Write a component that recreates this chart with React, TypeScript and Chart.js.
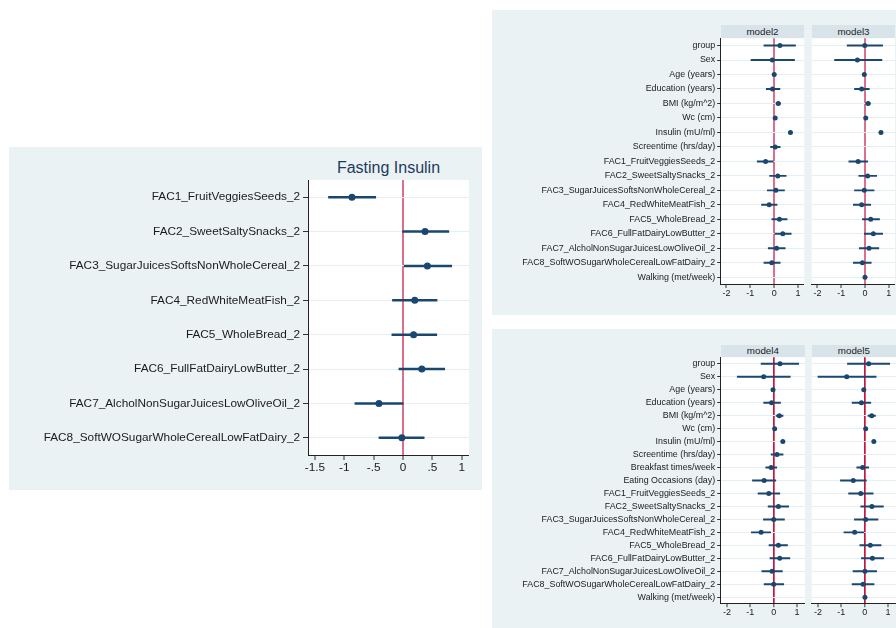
import React, { useEffect, useRef } from "react";
import { Chart, registerables } from "chart.js";

Chart.register(...registerables);

const FONT = '"Liberation Sans", Arial, Helvetica, sans-serif';
const NAVY = "#1a476f";
const PANEL_BG = "#eaf2f3";
const STRIP_BG = "#d9e4ea";
const GRID = "#e6eef1";
const PINK = "#db6f8c";
const RED = "#c8143c";
const INK = "#1b1b1b";

// ---- Fasting insulin (single model) ----
const fastingLabels = [
  "FAC1_FruitVeggiesSeeds_2",
  "FAC2_SweetSaltySnacks_2",
  "FAC3_SugarJuicesSoftsNonWholeCereal_2",
  "FAC4_RedWhiteMeatFish_2",
  "FAC5_WholeBread_2",
  "FAC6_FullFatDairyLowButter_2",
  "FAC7_AlcholNonSugarJuicesLowOliveOil_2",
  "FAC8_SoftWOSugarWholeCerealLowFatDairy_2",
];
const fastingEst = [-0.87, 0.375, 0.415, 0.2, 0.18, 0.32, -0.41, -0.02];
const fastingLow = [-1.27, -0.01, 0.02, -0.18, -0.19, -0.07, -0.82, -0.41];
const fastingHigh = [-0.465, 0.78, 0.83, 0.58, 0.575, 0.71, 0.005, 0.36];
const fastingTicks = [-1.5, -1, -0.5, 0, 0.5, 1];

const factorLabels = fastingLabels;

// ---- Models 2 and 3 ----
const topLabels = [
  "group",
  "Sex",
  "Age (years)",
  "Education (years)",
  "BMI (kg/m^2)",
  "Wc (cm)",
  "Insulin (mU/ml)",
  "Screentime (hrs/day)",
  ...factorLabels,
  "Walking (met/week)",
];
const model2Est = [0.24, -0.08, 0.0, -0.07, 0.17, 0.04, 0.68, 0.04, -0.36, 0.15, 0.07, -0.21, 0.22, 0.36, 0.1, -0.1, null];
const model2Low = [-0.43, -0.97, -0.02, -0.33, 0.08, 0.02, 0.66, -0.15, -0.71, -0.19, -0.29, -0.53, -0.1, 0.03, -0.25, -0.43, null];
const model2High = [0.89, 0.85, 0.02, 0.24, 0.26, 0.06, 0.7, 0.25, 0.0, 0.5, 0.43, 0.12, 0.54, 0.71, 0.46, 0.25, null];

const model3Est = [-0.01, -0.32, -0.03, -0.14, 0.13, 0.03, 0.67, null, -0.29, 0.11, -0.03, -0.14, 0.24, 0.35, 0.17, -0.11, 0.0];
const model3Low = [-0.75, -1.28, -0.05, -0.44, 0.03, 0.01, 0.65, null, -0.68, -0.26, -0.44, -0.49, -0.11, -0.03, -0.24, -0.49, -0.02];
const model3High = [0.74, 0.71, -0.01, 0.18, 0.22, 0.05, 0.69, null, 0.11, 0.49, 0.38, 0.24, 0.61, 0.74, 0.58, 0.26, 0.02];

// ---- Models 4 and 5 ----
const bottomLabels = [
  "group",
  "Sex",
  "Age (years)",
  "Education (years)",
  "BMI (kg/m^2)",
  "Wc (cm)",
  "Insulin (mU/ml)",
  "Screentime (hrs/day)",
  "Breakfast times/week",
  "Eating Occasions (day)",
  ...factorLabels,
  "Walking (met/week)",
];
const model4Est = [0.27, -0.43, -0.03, -0.09, 0.24, 0.04, 0.39, 0.14, -0.11, -0.41, -0.21, 0.2, 0.0, -0.54, 0.2, 0.26, -0.07, 0.0, null];
const model4Low = [-0.54, -1.56, -0.05, -0.43, 0.1, 0.02, 0.37, -0.11, -0.34, -0.91, -0.67, -0.24, -0.44, -0.96, -0.2, -0.16, -0.51, -0.41, null];
const model4High = [1.07, 0.71, -0.01, 0.29, 0.4, 0.06, 0.41, 0.4, 0.13, 0.09, 0.26, 0.64, 0.46, -0.13, 0.59, 0.69, 0.37, 0.43, null];

const model5Est = [0.17, -0.77, -0.04, -0.14, 0.3, 0.04, 0.39, null, -0.09, -0.49, -0.17, 0.31, 0.04, -0.43, 0.24, 0.33, 0.01, -0.07, 0.01];
const model5Low = [-0.74, -2.0, -0.06, -0.54, 0.14, 0.02, 0.37, null, -0.34, -1.04, -0.69, -0.17, -0.44, -0.89, -0.21, -0.14, -0.5, -0.54, -0.01];
const model5High = [1.07, 0.49, -0.02, 0.26, 0.46, 0.06, 0.41, null, 0.17, 0.07, 0.36, 0.8, 0.57, 0.0, 0.7, 0.81, 0.51, 0.4, 0.03];

const modelTicks = [-2, -1, 0, 1];

// Stata-style tick text: ".5", "-.5"
function fmtTick(v: number): string {
  return String(v).replace(/^(-?)0\./, "$1.");
}

const plotBackground = {
  id: "plotBackground",
  beforeDraw(chart: any) {
    const { ctx, chartArea: a } = chart;
    ctx.save();
    ctx.fillStyle = "#ffffff";
    ctx.fillRect(a.left, a.top, a.right - a.left, a.bottom - a.top);
    ctx.restore();
  },
};

type ForestProps = {
  left: number;
  top: number;
  width: number;
  height: number;
  labels: string[];
  est: (number | null)[];
  low: (number | null)[];
  high: (number | null)[];
  xMin: number;
  xMax: number;
  ticks: number[];
  yWidth: number;
  xHeight: number;
  padTop: number;
  padRight: number;
  showY: boolean;
  yFont: number;
  xFont: number;
  yTickLen: number;
  yTickPad: number;
  xTickLen: number;
  xTickPad: number;
  dot: number;
  ci: number;
  refColor: string;
  refWidth: number;
};

function Forest(p: ForestProps) {
  const ref = useRef<HTMLCanvasElement>(null);
  useEffect(() => {
    const bars = p.low.map((l, i) => (l == null || p.high[i] == null ? null : [l, p.high[i]]));
    const chart = new Chart(ref.current as HTMLCanvasElement, {
      type: "bar",
      data: {
        labels: p.labels,
        datasets: [
          {
            type: "line",
            indexAxis: "y",
            data: p.est,
            showLine: false,
            pointRadius: p.dot,
            pointHoverRadius: p.dot,
            pointBackgroundColor: NAVY,
            pointBorderWidth: 0,
            order: 0,
          } as any,
          {
            type: "bar",
            indexAxis: "y",
            data: bars,
            backgroundColor: NAVY,
            borderWidth: 0,
            barThickness: p.ci,
            order: 1,
          } as any,
        ],
      },
      options: {
        responsive: false,
        animation: false,
        indexAxis: "y",
        layout: {
          autoPadding: false,
          padding: { left: 0, top: p.padTop, right: p.padRight, bottom: 0 },
        },
        plugins: {
          legend: { display: false },
          tooltip: { enabled: false },
          title: { display: false },
        },
        scales: {
          x: {
            type: "linear",
            min: p.xMin,
            max: p.xMax,
            afterBuildTicks: (s: any) => {
              s.ticks = p.ticks.map((v) => ({ value: v }));
            },
            afterFit: (s: any) => {
              s.height = p.xHeight;
            },
            grid: {
              color: (c: any) => (c.tick && c.tick.value === 0 ? p.refColor : "rgba(0,0,0,0)"),
              lineWidth: (c: any) => (c.tick && c.tick.value === 0 ? p.refWidth : 0),
              drawTicks: true,
              tickLength: p.xTickLen,
              tickColor: "#333",
              tickWidth: 1,
            },
            border: { display: true, color: "#222", width: 1 },
            ticks: {
              autoSkip: false,
              maxRotation: 0,
              padding: p.xTickPad,
              color: INK,
              font: { family: FONT, size: p.xFont },
              callback: (v: any) => fmtTick(Number(v)),
            },
          },
          y: {
            type: "category",
            offset: true,
            afterFit: (s: any) => {
              s.width = p.yWidth;
            },
            grid: {
              offset: false,
              color: GRID,
              lineWidth: 1,
              drawTicks: p.showY,
              tickLength: p.showY ? p.yTickLen : 0,
              tickColor: "#333",
              tickWidth: 1,
            },
            border: { display: p.showY, color: "#222", width: 1 },
            ticks: {
              display: p.showY,
              autoSkip: false,
              padding: p.yTickPad,
              color: INK,
              font: { family: FONT, size: p.yFont },
            },
          },
        },
      } as any,
      plugins: [plotBackground],
    });
    return () => chart.destroy();
  }, []);
  return (
    <canvas
      ref={ref}
      width={p.width}
      height={p.height}
      style={{ position: "absolute", left: p.left, top: p.top, width: p.width, height: p.height }}
    />
  );
}

function Strip({ left, top, width, height, text }: { left: number; top: number; width: number; height: number; text: string }) {
  return (
    <div
      style={{
        position: "absolute",
        left,
        top,
        width,
        height,
        background: STRIP_BG,
        color: INK,
        fontFamily: FONT,
        fontSize: 9.8,
        lineHeight: `${height}px`,
        textAlign: "center",
      }}
    >
      {text}
    </div>
  );
}

const modelCommon = {
  ticks: modelTicks,
  yFont: 8.9,
  xFont: 9,
  yTickLen: 3.5,
  yTickPad: 2,
  xTickLen: 3.5,
  xTickPad: 0,
  dot: 2.5,
  ci: 1.3,
  padTop: 28.3,
};

export default function App() {
  return (
    <div style={{ position: "absolute", left: 0, top: 0, width: 896, height: 628, background: "#fff", overflow: "hidden" }}>
      {/* Fasting insulin panel */}
      <div style={{ position: "absolute", left: 9, top: 147, width: 473, height: 343, background: PANEL_BG }} />
      <div
        style={{
          position: "absolute",
          left: 308,
          top: 159,
          width: 161,
          textAlign: "center",
          fontFamily: FONT,
          fontSize: 16,
          color: "#1e3a5f",
          whiteSpace: "nowrap",
        }}
      >
        Fasting Insulin
      </div>
      <Forest
        left={9}
        top={147}
        width={473}
        height={343}
        labels={fastingLabels}
        est={fastingEst}
        low={fastingLow}
        high={fastingHigh}
        xMin={-1.619}
        xMax={1.124}
        ticks={fastingTicks}
        yWidth={299}
        xHeight={35}
        padTop={33}
        padRight={13}
        showY={true}
        yFont={11.8}
        xFont={11.8}
        yTickLen={5}
        yTickPad={3}
        xTickLen={5}
        xTickPad={1}
        dot={3.5}
        ci={1.8}
        refColor={PINK}
        refWidth={2}
      />

      {/* Models 2 and 3 */}
      <div style={{ position: "absolute", left: 492, top: 10, width: 404, height: 305, background: PANEL_BG }} />
      <Strip left={720.7} top={25} width={83.6} height={13.3} text="model2" />
      <Strip left={811.7} top={25} width={83.6} height={13.3} text="model3" />
      <Forest
        {...modelCommon}
        left={492}
        top={10}
        width={313}
        height={305}
        labels={topLabels}
        est={model2Est}
        low={model2Low}
        high={model2High}
        xMin={-2.24}
        xMax={1.26}
        yWidth={228.7}
        xHeight={30.5}
        padRight={0.7}
        showY={true}
        refColor={PINK}
        refWidth={2}
      />
      <Forest
        {...modelCommon}
        left={806}
        top={10}
        width={89.3}
        height={305}
        labels={topLabels}
        est={model3Est}
        low={model3Low}
        high={model3High}
        xMin={-2.24}
        xMax={1.26}
        yWidth={5.7}
        xHeight={30.5}
        padRight={0}
        showY={false}
        refColor={PINK}
        refWidth={2}
      />

      {/* Models 4 and 5 */}
      <div style={{ position: "absolute", left: 492, top: 329, width: 404, height: 299, background: PANEL_BG }} />
      <Strip left={720.7} top={345} width={84.3} height={12.3} text="model4" />
      <Strip left={811.7} top={345} width={84.3} height={12.3} text="model5" />
      <Forest
        {...modelCommon}
        left={492}
        top={329}
        width={313}
        height={299}
        labels={bottomLabels}
        est={model4Est}
        low={model4Low}
        high={model4High}
        xMin={-2.27}
        xMax={1.34}
        yWidth={228.7}
        xHeight={24.3}
        padTop={28.3}
        padRight={0}
        showY={true}
        refColor={RED}
        refWidth={1.7}
      />
      <Forest
        {...modelCommon}
        left={806}
        top={329}
        width={90}
        height={299}
        labels={bottomLabels}
        est={model5Est}
        low={model5Low}
        high={model5High}
        xMin={-2.27}
        xMax={1.34}
        yWidth={5.7}
        xHeight={24.3}
        padTop={28.3}
        padRight={0}
        showY={false}
        refColor={RED}
        refWidth={1.7}
      />
    </div>
  );
}
